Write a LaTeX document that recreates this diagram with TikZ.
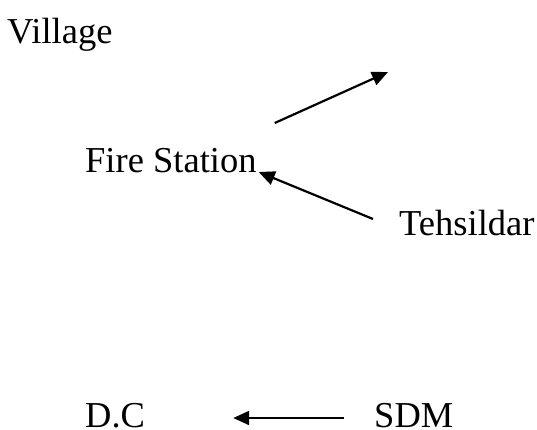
\documentclass[tikz,border=0pt]{standalone}
\usepackage{fontspec}
\setmainfont{Liberation Serif}
\usetikzlibrary{arrows.meta}

\begin{document}
\begin{tikzpicture}
    [x=1pt,y=-1pt,every node/.style={inner sep=0pt,anchor=base west,font=\fontsize{36.5}{40}\selectfont},
     conn/.style={line width=2.2pt,-{Triangle[length=16pt,width=14pt]}}]
    \useasboundingbox (0,0) rectangle (537,429);

    \node (village) at (7,43) {Village};
    \node (fire) at (85,172) {Fire Station};
    \node (teh) at (399,235) {Tehsildar};
    \node (dc) at (85,427) {D.C};
    \node (sdm) at (374,427) {SDM};
    \coordinate (up) at (388,72);

    \draw[conn] ([xshift=18pt,yshift=49pt]fire.base east) -- (up);
    \draw[conn] ([xshift=-26pt,yshift=16pt]teh.base west) -- ([xshift=2pt]fire.base east);
    \draw[conn] ([xshift=-30pt,yshift=9pt]sdm.base west) -- ([xshift=88pt,yshift=9pt]dc.base east);
  \end{tikzpicture}
\end{document}
